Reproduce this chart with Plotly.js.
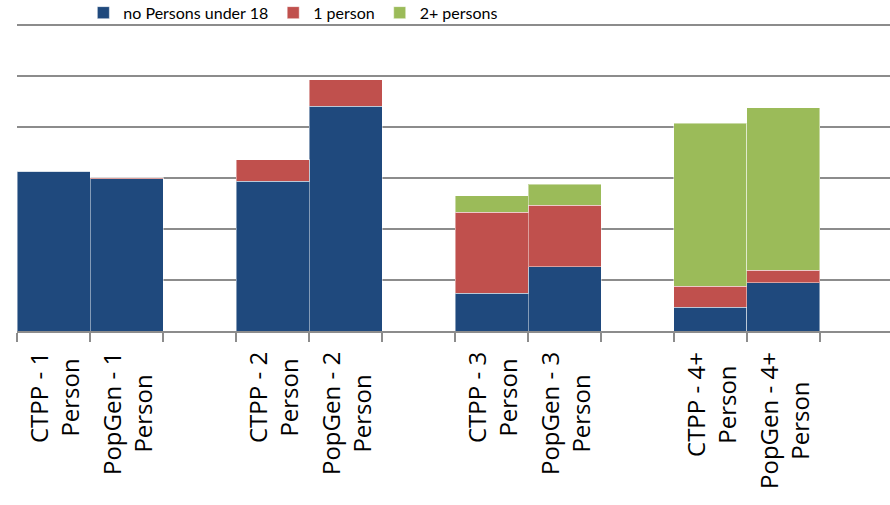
<!DOCTYPE html>
<html>
<head>
<meta charset="utf-8">
<script src="https://cdn.plot.ly/plotly-3.0.1.min.js"></script>
<style>html,body{margin:0;padding:0;background:#fff;}#chart{width:890px;height:505px;}</style>
</head>
<body>
<div id="chart"></div>
<script>
const categories = ["CTPP - 1 Person", "PopGen - 1 Person", " ", "CTPP - 2 Person", "PopGen - 2 Person", "  ",
                    "CTPP - 3 Person", "PopGen - 3 Person", "   ", "CTPP - 4+ Person", "PopGen - 4+ Person", "    "];
const tickLabels = ["CTPP - 1<br>Person", "PopGen - 1<br>Person", "", "CTPP - 2<br>Person", "PopGen - 2<br>Person", "",
                    "CTPP - 3<br>Person", "PopGen - 3<br>Person", "", "CTPP - 4+<br>Person", "PopGen - 4+<br>Person", ""];
const noPersonsUnder18 = [3.13, 2.98, null, 2.93, 4.40, null, 0.74, 1.26, null, 0.47, 0.94, null];
const onePerson        = [0,    0.02, null, 0.42, 0.52, null, 1.59, 1.20, null, 0.41, 0.25, null];
const twoPlusPersons   = [0,    0,    null, 0,    0,    null, 0.32, 0.41, null, 3.19, 3.18, null];
const seriesNames = ["no Persons under 18", "1 person", "2+ persons"];
const seriesColors = ["#1F497D", "#C0504D", "#9BBB59"];

const seriesValues = [noPersonsUnder18, onePerson, twoPlusPersons];
const traces = seriesValues.map((vals, i) => ({
  type: 'bar',
  name: seriesNames[i],
  x: categories,
  y: vals,
  marker: {color: seriesColors[i], line: {color: 'rgba(255,255,255,0.45)', width: 1}},
  hoverinfo: 'x+y+name'
}));

const annotations = [];
categories.forEach((c, i) => {
  if (!tickLabels[i]) return;
  annotations.push({
    x: c, xref: 'x', y: 0, yref: 'paper',
    yanchor: 'top', xanchor: 'center',
    yshift: -19,
    text: tickLabels[i], showarrow: false,
    textangle: -90, align: 'center',
    font: {family: 'Open Sans, sans-serif', size: 24, color: '#000'}
  });
});

const layout = {
  width: 890, height: 505,
  margin: {l: 17, r: 0, t: 22.3, b: 173.5, pad: 0, autoexpand: false},
  paper_bgcolor: '#fff', plot_bgcolor: '#fff',
  barmode: 'stack', bargap: 0,
  showlegend: true,
  legend: {
    orientation: 'h', x: 0.076, xanchor: 'left', y: 1.03, yanchor: 'middle',
    font: {family: 'Lato, sans-serif', size: 16, color: '#000'},
    traceorder: 'normal', itemwidth: 30, bgcolor: 'rgba(0,0,0,0)'
  },
  xaxis: {
    type: 'category', range: [-0.5, 11.459], fixedrange: true,
    showgrid: false, showline: true, linecolor: '#8c8c8c', linewidth: 2,
    ticks: 'outside', tickson: 'boundaries', ticklen: 9, tickwidth: 2, tickcolor: '#8c8c8c',
    showticklabels: false, zeroline: false
  },
  yaxis: {
    range: [0, 6.05], dtick: 1, tick0: 0, fixedrange: true,
    showgrid: true, gridcolor: '#8c8c8c', gridwidth: 2,
    showticklabels: false, zeroline: false, showline: false, ticks: ''
  },
  annotations: annotations
};

Plotly.newPlot('chart', traces, layout, {displayModeBar: false, staticPlot: true});
</script>
</body>
</html>
